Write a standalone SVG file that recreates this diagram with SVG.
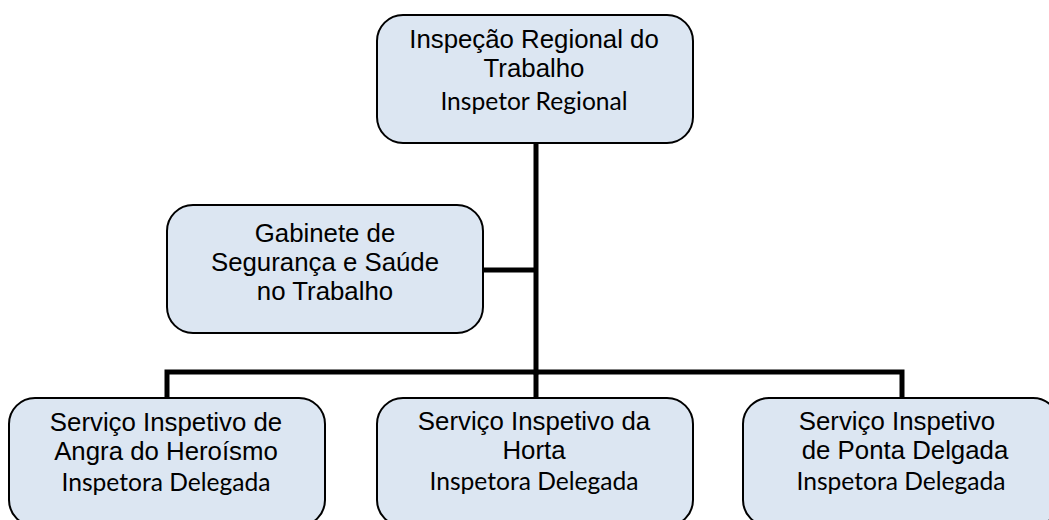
<svg xmlns="http://www.w3.org/2000/svg" width="1049" height="520" viewBox="0 0 1049 520">
<style>
.box{fill:#dce6f2;stroke:#000;stroke-width:2}
.t{font-family:"Liberation Sans",Arial,sans-serif;font-size:25.8px;fill:#000;text-anchor:middle}
.s{font-family:Lato,"Open Sans",sans-serif;font-size:24.6px;fill:#000;text-anchor:middle}
.c{fill:none;stroke:#000;stroke-width:5}
</style>
<rect width="1049" height="520" fill="#fff"/>
<g id="connectors">
<line class="c" x1="536" y1="143" x2="536" y2="374.5"/>
<line class="c" x1="483" y1="270" x2="536" y2="270"/>
<polyline class="c" points="167,398 167,372 902,372 902,398"/>
<line class="c" x1="536" y1="372" x2="536" y2="398"/>
</g>
<g id="node-top">
<rect class="box" x="377" y="15" width="316" height="128" rx="26"/>
<text class="t" x="534" y="48">Inspeção Regional do</text>
<text class="t" x="534" y="77">Trabalho</text>
<text class="s" x="534" y="110">Inspetor Regional</text>
</g>
<g id="node-gabinete">
<rect class="box" x="167" y="205" width="316" height="128" rx="26"/>
<text class="t" x="325" y="242">Gabinete de</text>
<text class="t" x="325" y="271">Segurança e Saúde</text>
<text class="t" x="325" y="300">no Trabalho</text>
</g>
<g id="node-angra">
<rect class="box" x="9" y="398" width="316" height="128" rx="26"/>
<text class="t" x="166" y="431">Serviço Inspetivo de</text>
<text class="t" x="166" y="460">Angra do Heroísmo</text>
<text class="s" x="166" y="491">Inspetora Delegada</text>
</g>
<g id="node-horta">
<rect class="box" x="377" y="398" width="316" height="128" rx="26"/>
<text class="t" x="534" y="430">Serviço Inspetivo da</text>
<text class="t" x="534" y="459">Horta</text>
<text class="s" x="534" y="490">Inspetora Delegada</text>
</g>
<g id="node-ponta">
<rect class="box" x="743" y="398" width="316" height="128" rx="26"/>
<text class="t" x="897" y="430">Serviço Inspetivo</text>
<text class="t" x="905" y="459">de Ponta Delgada</text>
<text class="s" x="901" y="490">Inspetora Delegada</text>
</g>
</svg>
